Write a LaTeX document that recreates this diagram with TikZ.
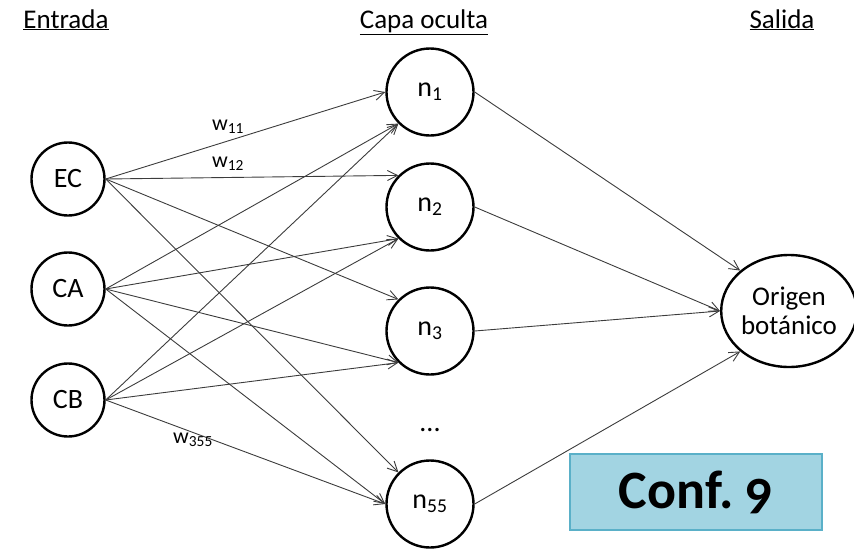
\documentclass[tikz,border=0pt]{standalone}
\usepackage{fontspec}
\setmainfont{Carlito}
\usetikzlibrary{arrows.meta,shapes.geometric}
\definecolor{edgegray}{RGB}{60,60,60}
\definecolor{conffill}{RGB}{162,212,226}
\definecolor{confline}{RGB}{90,176,200}
\tikzset{
  neuron/.style={circle,draw=black,line width=2.4pt,inner sep=0pt,minimum size=#1,font=\fontsize{28}{32}\selectfont},
  link/.style={draw=edgegray,line width=0.9pt,-{Straight Barb[length=10pt,width=10pt,line width=0.9pt]}},
  header/.style={font=\fontsize{27}{30}\selectfont,anchor=base},
  wlabel/.style={font=\fontsize{22}{26}\selectfont,inner sep=0pt}
}
\begin{document}
\begin{tikzpicture}[x=1pt,y=-1pt]
\useasboundingbox (0,0) rectangle (854,549);

% column headings
\node[header] (hin)  at (66,28)  {\underline{Entrada}};
\node[header] (hhid) at (424,28) {\underline{Capa oculta}};
\node[header] (hout) at (782,28) {\underline{Salida}};

% input layer
\node[neuron=73pt] (ec) at (68,179) {EC};
\node[neuron=73pt] (ca) at (68,289) {CA};
\node[neuron=73pt] (cb) at (68,400) {CB};

% hidden layer
\node[neuron=87pt] (n1)  at (430,92)  {n\textsubscript{1}};
\node[neuron=87pt] (n2)  at (430,207) {n\textsubscript{2}};
\node[neuron=87pt] (n3)  at (430,331) {n\textsubscript{3}};
\node[neuron=87pt] (n55) at (430,504) {n\textsubscript{55}};
\node[font=\fontsize{28}{32}\selectfont] (dots) at (430,430) {...};

% output layer
\node[ellipse,draw=black,line width=2.4pt,inner sep=0pt,minimum width=126pt,minimum height=112pt,
      align=center,font=\fontsize{27}{31}\selectfont] (out) at (789,311) {Origen\\[-2pt]botánico};

% input to hidden connections, attached at fixed points of each circle
\draw[link] (ec.east) -- (n1.west);
\draw[link] (ec.east) -- (n2.north west);
\draw[link] (ec.east) -- (n3.north west);
\draw[link] (ec.east) -- (n55.north west);
\foreach \i in {ca,cb}{
  \draw[link] (\i.east) -- (n1.south west);
  \draw[link] (\i.east) -- (n2.south west);
  \draw[link] (\i.east) -- (n3.south west);
  \draw[link] (\i.east) -- (n55.west);
}

% hidden to output connections
\draw[link] (n1.east)  -- (out.north west);
\draw[link] (n2.east)  -- (out.west);
\draw[link] (n3.east)  -- (out.west);
\draw[link] (n55.east) -- (out.south west);

% weight labels
\node[wlabel] (w11)  at (228,127) {w\textsubscript{11}};
\node[wlabel] (w12)  at (228,164) {w\textsubscript{12}};
\node[wlabel] (w355) at (193,440) {w\textsubscript{355}};

% configuration tag
\node[draw=confline,fill=conffill,line width=2.5pt,minimum width=252pt,minimum height=76pt,
      font=\fontsize{54}{60}\bfseries\selectfont] (conf) at (696,492)
      {Conf.\hspace{-4pt} {\addfontfeatures{Numbers=OldStyle}9}};
\end{tikzpicture}
\end{document}
